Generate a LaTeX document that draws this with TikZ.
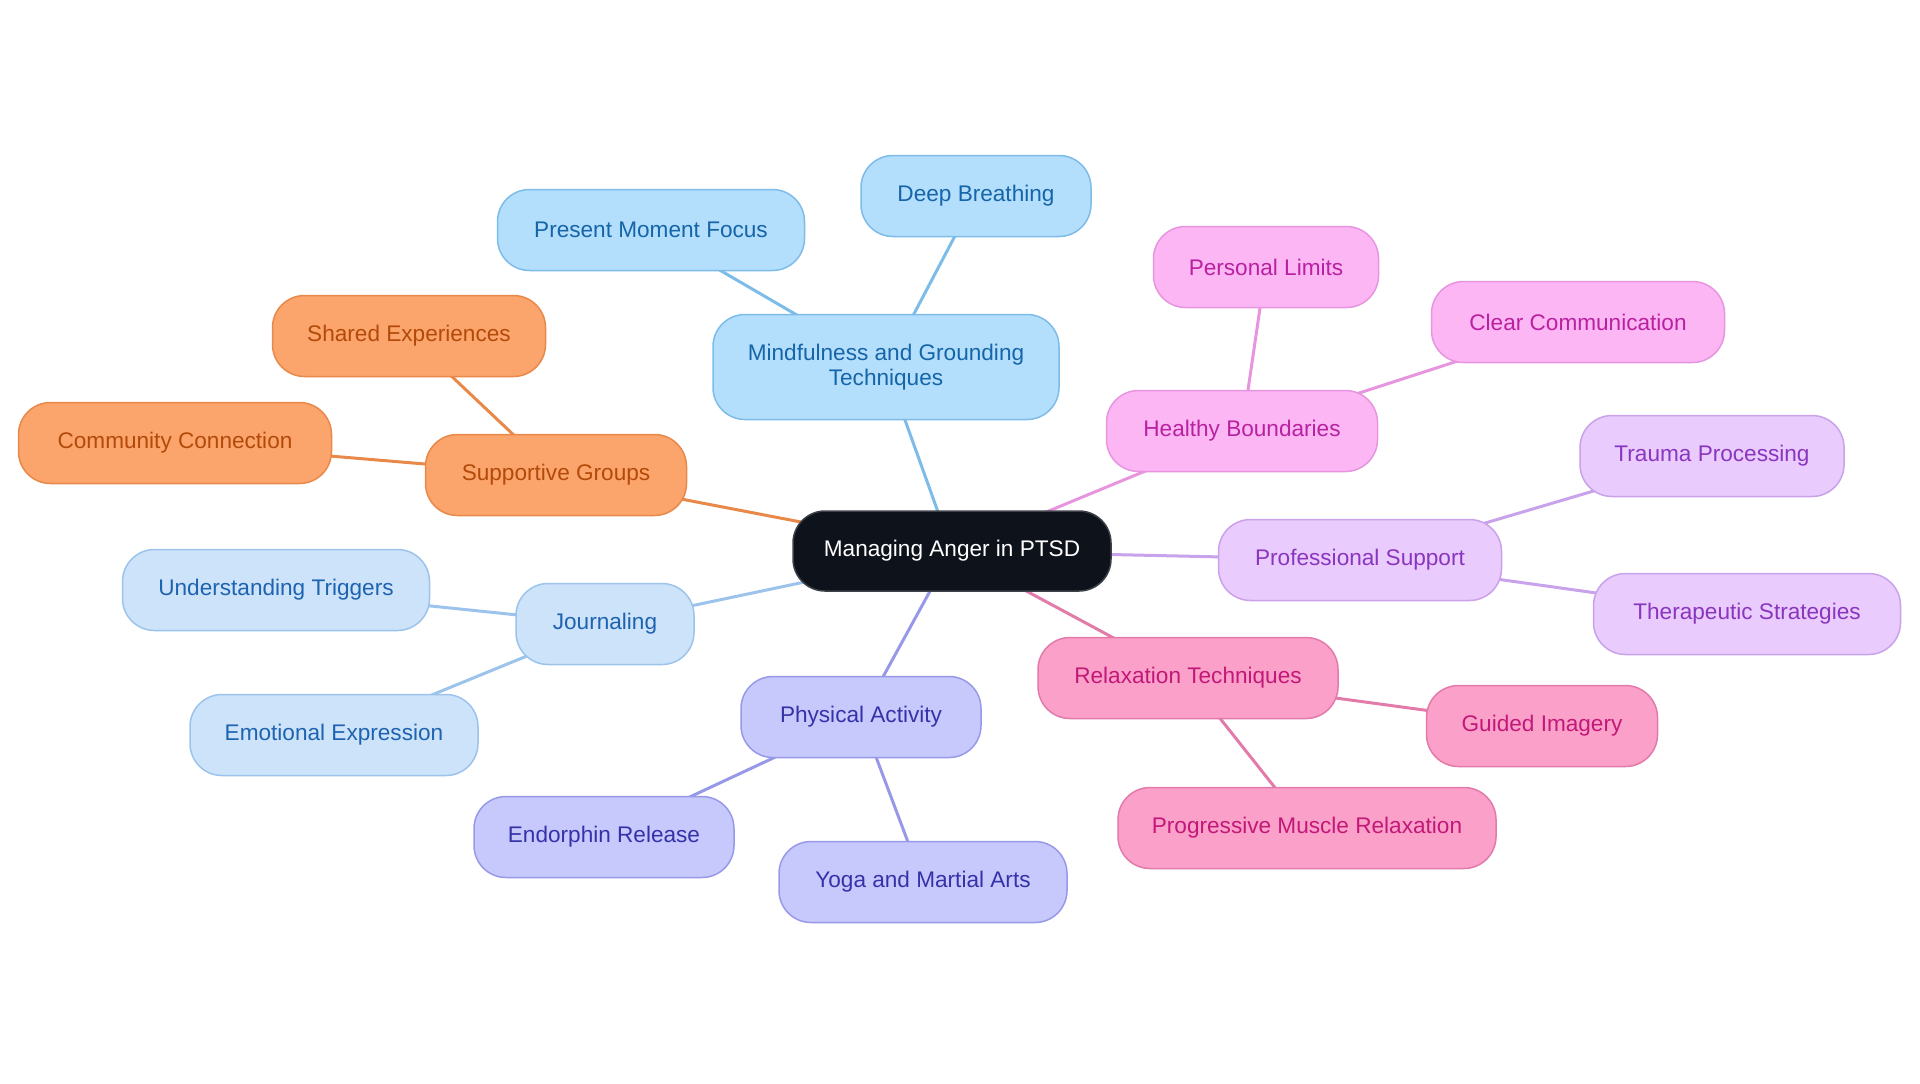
\documentclass[tikz,border=0pt]{standalone}
\usepackage{fontspec}
\setmainfont{Liberation Sans}
\usetikzlibrary{backgrounds}
\definecolor{bF}{HTML}{B3DEFC}\definecolor{bD}{HTML}{7DBCE8}\definecolor{bT}{HTML}{1565A8}
\definecolor{oF}{HTML}{FBA46C}\definecolor{oD}{HTML}{E8894A}\definecolor{oT}{HTML}{B34A0A}
\definecolor{lF}{HTML}{CCE3FA}\definecolor{lD}{HTML}{9CC3EC}\definecolor{lT}{HTML}{1E63B0}
\definecolor{pF}{HTML}{C7C9FD}\definecolor{pD}{HTML}{9799E8}\definecolor{pT}{HTML}{3532A8}
\definecolor{rF}{HTML}{FBA0C8}\definecolor{rD}{HTML}{E27AAA}\definecolor{rT}{HTML}{C2187A}
\definecolor{mF}{HTML}{FCB6F4}\definecolor{mD}{HTML}{E795DF}\definecolor{mT}{HTML}{B8219F}
\definecolor{vF}{HTML}{E9CBFD}\definecolor{vD}{HTML}{C8A2EA}\definecolor{vT}{HTML}{8A35BE}
\definecolor{cF}{HTML}{0E121A}
\tikzset{
  box/.style={rounded corners=16pt, minimum height=40.5pt, inner sep=0pt, align=center,
    line width=0.75pt, font=\fontsize{11.3}{12.2}\selectfont},
  bbox/.style={box, fill=bF, draw=bD, text=bT},
  obox/.style={box, fill=oF, draw=oD, text=oT},
  lbox/.style={box, fill=lF, draw=lD, text=lT},
  pbox/.style={box, fill=pF, draw=pD, text=pT},
  rbox/.style={box, fill=rF, draw=rD, text=rT},
  mbox/.style={box, fill=mF, draw=mD, text=mT},
  vbox/.style={box, fill=vF, draw=vD, text=vT},
  cbox/.style={box, fill=cF, draw=cF!80!white, text=white},
  link/.style={line width=1.5pt}
}
\begin{document}
\begin{tikzpicture}[x=0.5pt,y=-0.5pt]
\useasboundingbox (0,0) rectangle (1920,1083);
\node[cbox, minimum width=159pt, minimum height=40pt] (c) at (952,551) {Managing Anger in PTSD};
% blue
\node[bbox, minimum width=173pt, minimum height=52.5pt] (mind) at (886,367) {Mindfulness and Grounding\\Techniques};
\node[bbox, minimum width=153.5pt] (pres) at (651,230) {Present Moment Focus};
\node[bbox, minimum width=115pt] (deep) at (976,196) {Deep Breathing};
% magenta
\node[mbox, minimum width=135.5pt] (heal) at (1242,431) {Healthy Boundaries};
\node[mbox, minimum width=112.5pt] (pers) at (1266,267) {Personal Limits};
\node[mbox, minimum width=146.5pt] (clear) at (1578,322) {Clear Communication};
% orange
\node[obox, minimum width=130.5pt] (supp) at (556,475) {Supportive Groups};
\node[obox, minimum width=136.5pt] (shar) at (409,336) {Shared Experiences};
\node[obox, minimum width=156.5pt] (comm) at (175,443) {Community Connection};
% violet
\node[vbox, minimum width=141.5pt] (prof) at (1360,560) {Professional Support};
\node[vbox, minimum width=132pt] (trau) at (1712,456) {Trauma Processing};
\node[vbox, minimum width=153.5pt] (ther) at (1747,614) {Therapeutic Strategies};
% light blue
\node[lbox, minimum width=89pt] (jour) at (605,624) {Journaling};
\node[lbox, minimum width=153.5pt] (und) at (276,590) {Understanding Triggers};
\node[lbox, minimum width=144pt] (emo) at (334,735) {Emotional Expression};
% periwinkle
\node[pbox, minimum width=120pt] (phys) at (861,717) {Physical Activity};
\node[pbox, minimum width=130pt] (endo) at (604,837) {Endorphin Release};
\node[pbox, minimum width=144pt] (yoga) at (923,882) {Yoga and Martial Arts};
% pink
\node[rbox, minimum width=150pt] (relx) at (1188,678) {Relaxation Techniques};
\node[rbox, minimum width=115.5pt] (guid) at (1542,726) {Guided Imagery};
\node[rbox, minimum width=189pt] (prog) at (1307,828) {Progressive Muscle Relaxation};
\begin{scope}[on background layer]
\draw[link, draw=bD] (c.center) -- (mind.center);
\draw[link, draw=bD] (mind.center) -- (pres.center);
\draw[link, draw=bD] (mind.center) -- (deep.center);
\draw[link, draw=mD] (c.center) -- (heal.center);
\draw[link, draw=mD] (heal.center) -- (pers.center);
\draw[link, draw=mD] (heal.center) -- (clear.center);
\draw[link, draw=oD] (c.center) -- (supp.center);
\draw[link, draw=oD] (supp.center) -- (shar.center);
\draw[link, draw=oD] (supp.center) -- (comm.center);
\draw[link, draw=vD] (c.center) -- (prof.center);
\draw[link, draw=vD] (prof.center) -- (trau.center);
\draw[link, draw=vD] (prof.center) -- (ther.center);
\draw[link, draw=lD] (c.center) -- (jour.center);
\draw[link, draw=lD] (jour.center) -- (und.center);
\draw[link, draw=lD] (jour.center) -- (emo.center);
\draw[link, draw=pD] (c.center) -- (phys.center);
\draw[link, draw=pD] (phys.center) -- (endo.center);
\draw[link, draw=pD] (phys.center) -- (yoga.center);
\draw[link, draw=rD] (c.center) -- (relx.center);
\draw[link, draw=rD] (relx.center) -- (guid.center);
\draw[link, draw=rD] (relx.center) -- (prog.center);
\end{scope}
\end{tikzpicture}
\end{document}
